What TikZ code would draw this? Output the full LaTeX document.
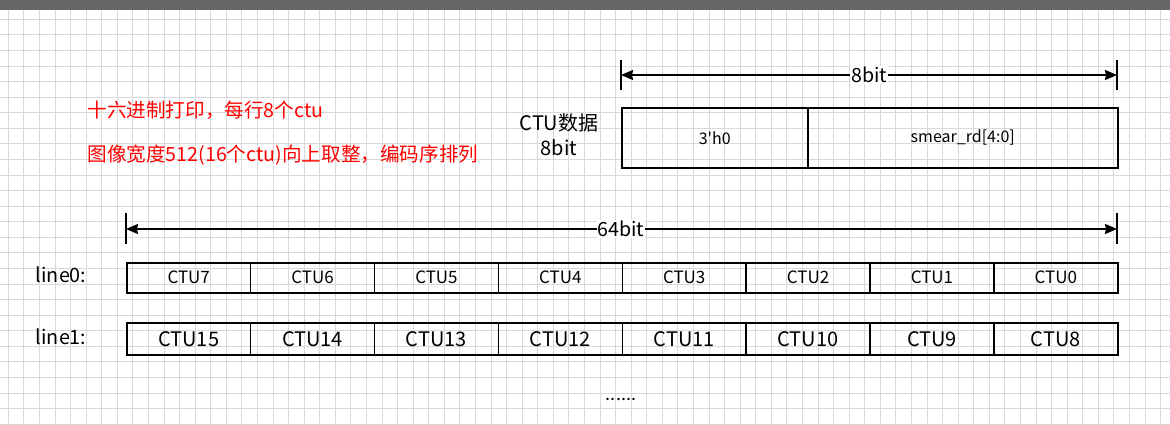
\documentclass[tikz,border=0pt]{standalone}
\usepackage{fontspec}
\setmainfont{Noto Sans CJK SC}
\usetikzlibrary{arrows.meta,positioning}
\definecolor{gridline}{HTML}{D9D9D9}
\definecolor{topbar}{HTML}{666666}
\definecolor{notered}{HTML}{FF0000}
\tikzset{
  cell/.style={draw=black,line width=1.5pt,minimum width=123.9pt,minimum height=30pt,
    inner sep=0pt,anchor=north west,font=\fontsize{17}{19}\selectfont},
  bigcell/.style={cell,minimum height=32pt,font=\fontsize{20}{22}\selectfont},
  field/.style={draw=black,line width=1.5pt,minimum height=60pt,inner sep=0pt,
    anchor=north west,font=\fontsize{16}{18}\selectfont},
  dimline/.style={line width=1.5pt,{Stealth[length=12pt,width=10pt,inset=1pt]}-{Stealth[length=12pt,width=10pt,inset=1pt]}},
  dimtick/.style={line width=1.5pt},
  dimlabel/.style={fill=white,inner sep=1pt,font=\fontsize{19.6}{21}\selectfont},
  rowlabel/.style={anchor=east,font=\fontsize{19.8}{21}\selectfont},
  note/.style={anchor=west,text=notered,font=\fontsize{19.6}{21}\selectfont}
}
\begin{document}
\begin{tikzpicture}[x=1pt,y=-1pt]
\useasboundingbox (0,0) rectangle (1170,424);
\fill[white] (0,0) rectangle (1170,424);
% grid
\foreach \gx in {0,...,74} {
  \draw[gridline,line width=0.8pt] (8.3+15.57*\gx,10) -- (8.3+15.57*\gx,424);
}
\foreach \gy in {0,...,26} {
  \draw[gridline,line width=0.8pt] (0,19.3+15.57*\gy) -- (1170,19.3+15.57*\gy);
}
\fill[topbar] (0,0) rectangle (1170,10);

% notes
\node[note] (note1) at (84,110) {十六进制打印，每行8个ctu};
\node[note] (note2) at (84,155) {图像宽度512(16个ctu)向上取整，编码序排列};

% CTU data word
\node[font=\fontsize{20}{25}\selectfont,align=center] (ctulbl) at (559,135) {CTU数据\\8bit};
\node[field,minimum width=186pt] (pad) at (621,107) {3\textquotesingle h0};
\node[field,minimum width=310pt] (smear) at (807,107) {smear\_rd[4:0]};

% 8bit dimension
\coordinate (b8L) at (621,75);
\coordinate (b8R) at (1117,75);
\draw[dimtick] (621,60) -- (621,90);
\draw[dimtick] (1117,60) -- (1117,90);
\draw[dimline] (b8L) -- (b8R);
\node[dimlabel] (b8) at (869,75) {8bit};

% 64bit dimension
\coordinate (b64L) at (126,229);
\coordinate (b64R) at (1117,229);
\draw[dimtick] (126,213) -- (126,244);
\draw[dimtick] (1117,213) -- (1117,244);
\draw[dimline] (b64L) -- (b64R);
\node[dimlabel] (b64) at (621,229) {64bit};

% line0 / line1
\node[rowlabel] (line0) at (90,275) {line0:};
\node[rowlabel] (line1) at (90,337) {line1:};
\foreach \i in {0,...,7} {
  \pgfmathtruncatemacro\ctuA{7-\i}
  \pgfmathtruncatemacro\ctuB{15-\i}
  \node[cell] (r0c\i) at (126+123.875*\i,262) {CTU\ctuA};
  \node[bigcell] (r1c\i) at (126+123.875*\i,322) {CTU\ctuB};
}
\node[font=\fontsize{18}{20}\selectfont] (more) at (621,399) {......};
\end{tikzpicture}
\end{document}
